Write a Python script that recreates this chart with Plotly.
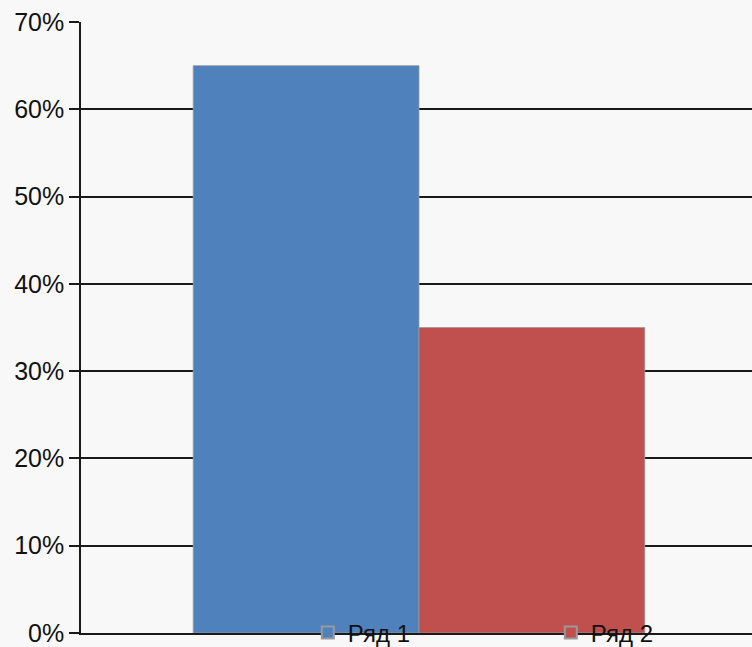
import plotly.graph_objects as go

categories = ["Категория 1"]
series_names = ["Ряд 1", "Ряд 2"]
series_values = [[0.65], [0.35]]
series_colors = ["#4F81BD", "#C0504D"]
tick_values = [0, 0.1, 0.2, 0.3, 0.4, 0.5, 0.6, 0.7]

fig = go.Figure()
for name, vals, col in zip(series_names, series_values, series_colors):
    fig.add_trace(go.Bar(
        x=categories, y=vals, name=name,
        marker=dict(color=col, line=dict(color="#9a9a9a", width=0.8)),
    ))

fig.update_layout(
    width=752, height=647,
    margin=dict(l=81, r=0, t=22, b=14, autoexpand=False),
    paper_bgcolor="#f8f8f8",
    plot_bgcolor="#f8f8f8",
    barmode="group",
    bargap=0.332,
    bargroupgap=0,
    font=dict(family="Liberation Sans, Arial", size=25, color="#111111"),
    showlegend=True,
    legend=dict(
        orientation="h",
        xref="paper", yref="paper",
        x=0.338, y=0.0, xanchor="left", yanchor="middle",
        bgcolor="rgba(0,0,0,0)",
        entrywidth=198, entrywidthmode="pixels",
        font=dict(size=24, color="#111111"),
        itemsizing="constant",
    ),
    xaxis=dict(
        range=[-0.5, 0.4926],
        showticklabels=False,
        showgrid=False,
        zeroline=False,
        showline=True,
        linecolor="#1a1a1a",
        linewidth=1.6,
        ticks="",
    ),
    yaxis=dict(
        range=[0, 0.7],
        tickvals=tick_values,
        tickformat=".0%",
        showgrid=True,
        gridcolor="#1a1a1a",
        gridwidth=1.6,
        zeroline=False,
        showline=True,
        linecolor="#1a1a1a",
        linewidth=1.6,
        ticks="outside",
        ticklen=10,
        tickwidth=1.6,
        tickcolor="#1a1a1a",
        tickfont=dict(size=25, color="#111111"),
    ),
)

fig.write_html(
    "out.html",
    config={"displayModeBar": False},
    post_script="document.body.style.margin='0';document.body.style.background='#f8f8f8';",
)
